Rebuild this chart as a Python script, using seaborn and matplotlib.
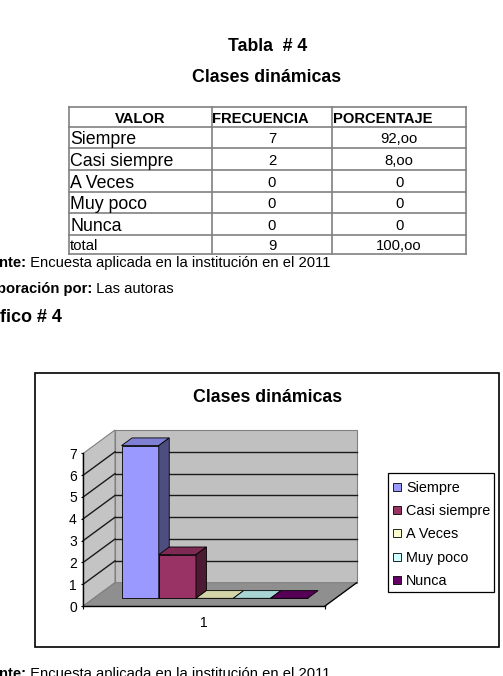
import numpy as np
import pandas as pd
import matplotlib
matplotlib.use("Agg")
import matplotlib.pyplot as plt
import seaborn as sns
import matplotlib.colors as mcolors
from matplotlib.patches import Polygon, Rectangle
from matplotlib.lines import Line2D
from matplotlib.transforms import ScaledTranslation

# ---------------- data ----------------
categories = ["Siempre", "Casi siempre", "A Veces", "Muy poco", "Nunca"]
frecuencia = [7, 2, 0, 0, 0]
porcentaje = ["92,oo", "8,oo", "0", "0", "0"]
total_label = "total"
total_frecuencia = "9"
total_porcentaje = "100,oo"
table_headers = ["VALOR", "FRECUENCIA", "PORCENTAJE"]
series_colors = ["#9999FF", "#993366", "#FFFFCC", "#CCFFFF", "#660066"]
group_label = ["1"]
y_ticks = [0, 1, 2, 3, 4, 5, 6, 7]
table_title = "Tabla  # 4"
chart_title = "Clases dinámicas"
fuente_bold, fuente_text = "nte:", " Encuesta aplicada en la institución en el 2011"
elab_bold, elab_text = "boración por:", " Las autoras"
grafico_label = "fico # 4"

# ---------------- figure ----------------
W, H = 503, 676
plt.rcParams['font.family'] = ['Liberation Sans', 'DejaVu Sans']
fig = plt.figure(figsize=(W / 100, H / 100), dpi=100)
fig.patch.set_facecolor("white")

doc = fig.add_axes([0, 0, 1, 1])
doc.set_xlim(0, W)
doc.set_ylim(H, 0)
doc.axis("off")
doc.set_zorder(0)

renderer = fig.canvas.get_renderer()


def mixed(x, y, bold, regular, size):
    t = doc.text(x, y, bold, fontsize=size, fontweight="bold", va="baseline", ha="left")
    bb = t.get_window_extent(renderer)
    x2 = doc.transData.inverted().transform((bb.x1, bb.y0))[0]
    doc.text(x2, y, regular, fontsize=size, va="baseline", ha="left")


# titles
doc.text(268, 51, table_title, fontsize=12.7, fontweight="bold", ha="center", va="baseline")
doc.text(267, 81.5, chart_title, fontsize=12.8, fontweight="bold", ha="center", va="baseline")

# table
col_x = [69.3, 211.7, 332.3, 466.0]
row_y = [106.7, 126.7, 148.3, 170.0, 191.7, 213.3, 235.0, 254.0]
line_kw = dict(color="#808080", lw=1.2)
for yy in row_y:
    doc.add_line(Line2D([col_x[0], col_x[-1]], [yy, yy], **line_kw))
for xx in col_x:
    doc.add_line(Line2D([xx, xx], [row_y[0], row_y[-1]], **line_kw))

doc.text((col_x[0] + col_x[1]) / 2, 122.7, table_headers[0], fontsize=10.6,
         fontweight="bold", ha="center", va="baseline")
doc.text(col_x[1] + 0.8, 122.7, table_headers[1], fontsize=10.6,
         fontweight="bold", ha="left", va="baseline")
doc.text(col_x[2] + 1.0, 122.7, table_headers[2], fontsize=10.6,
         fontweight="bold", ha="left", va="baseline")

for i, (c, f, p) in enumerate(zip(categories, frecuencia, porcentaje)):
    yb = row_y[i + 2] - 4.2
    doc.text(col_x[0] + 0.8, yb, c, fontsize=12.8, ha="left", va="baseline")
    doc.text((col_x[1] + col_x[2]) / 2, yb - 0.8, str(f), fontsize=10.7, ha="center", va="baseline")
    doc.text((col_x[2] + col_x[3]) / 2, yb - 0.8, p, fontsize=10.7, ha="center", va="baseline")
yb = row_y[-1] - 4
doc.text(col_x[0] + 0.8, yb, total_label, fontsize=10.7, ha="left", va="baseline")
doc.text((col_x[1] + col_x[2]) / 2, yb, total_frecuencia, fontsize=10.7, ha="center", va="baseline")
doc.text((col_x[2] + col_x[3]) / 2, yb, total_porcentaje, fontsize=10.7, ha="center", va="baseline")

mixed(-0.5, 267.3, fuente_bold, fuente_text, 10.6)
mixed(-3.0, 293.0, elab_bold, elab_text, 10.6)
doc.text(0.5, 321.7, grafico_label, fontsize=13, fontweight="bold", ha="left", va="baseline")
mixed(-0.5, 678.0, fuente_bold, fuente_text, 10.6)

# chart outer box
doc.add_patch(Rectangle((35, 373), 464, 274, fc="none", ec="black", lw=1.2))
doc.text(267.5, 401.7, chart_title, fontsize=12.8, fontweight="bold", ha="center", va="baseline")

# ---------------- 3D-like bar chart ----------------
X0, X1 = 83.3, 325.0
Y0, Y7 = 606.0, 453.3
ax = fig.add_axes([X0 / W, 1 - Y0 / H, (X1 - X0) / W, (Y0 - Y7) / H])
ax.set_zorder(2)
ax.patch.set_visible(False)

df = pd.DataFrame({"grupo": group_label * len(categories),
                   "valor": categories,
                   "frecuencia": frecuencia})
sns.barplot(data=df, x="grupo", y="frecuencia", hue="valor", hue_order=categories,
            palette=series_colors, width=0.77, saturation=1, errorbar=None,
            legend=False, edgecolor="black", linewidth=0.6, ax=ax)
ax.set_xlim(-0.5, 0.5)
ax.set_ylim(0, 7)
ax.set_xlabel("")
ax.set_ylabel("")

DX, DY = 0.317, 0.233   # full depth offset (inches)
d0, d1 = 0.33, 0.66     # bar depth span
inv = fig.transFigure.inverted()


def P(x, y, d):
    px, py = ax.transData.transform((x, y))
    return inv.transform((px + d * DX * fig.dpi, py + d * DY * fig.dpi))


def poly(pts, fc, ec, lw, z):
    ax.add_patch(Polygon(pts, closed=True, fc=fc, ec=ec, lw=lw, zorder=z,
                         transform=fig.transFigure, clip_on=False))


def seg(a, b, color, lw, z):
    ax.add_line(Line2D([a[0], b[0]], [a[1], b[1]], color=color, lw=lw, zorder=z,
                       transform=fig.transFigure, clip_on=False))


xl, xr = ax.get_xlim()
ytop = y_ticks[-1]
# back wall, left wall, floor
poly([P(xl, 0, 1), P(xr, 0, 1), P(xr, ytop, 1), P(xl, ytop, 1)], "#C0C0C0", "#808080", 0.8, 0.1)
poly([P(xl, 0, 0), P(xl, 0, 1), P(xl, ytop, 1), P(xl, ytop, 0)], "#C4C4C4", "#808080", 0.8, 0.1)
poly([P(xl, 0, 0), P(xr, 0, 0), P(xr, 0, 1), P(xl, 0, 1)], "#8F8F8F", "#808080", 0.8, 0.15)
seg(P(xr, 0, 0), P(xr, 0, 1), "black", 0.9, 0.2)
for v in y_ticks[1:-1]:
    seg(P(xl, v, 1), P(xr, v, 1), "#1a1a1a", 1.0, 0.2)
    seg(P(xl, v, 0), P(xl, v, 1), "#1a1a1a", 1.0, 0.2)

# bars with top and side faces
shift = ax.transData + ScaledTranslation(d0 * DX, d0 * DY, fig.dpi_scale_trans)
bars = sorted([p for p in ax.patches if isinstance(p, Rectangle)], key=lambda r: r.get_x())
for i, b in enumerate(bars):
    x, w, h = b.get_x(), b.get_width(), b.get_height()
    rgb = np.array(mcolors.to_rgb(b.get_facecolor()))
    z = 3 + i * 0.1
    b.set_transform(shift)
    b.set_clip_on(False)
    b.set_zorder(z)
    poly([P(x, h, d0), P(x + w, h, d0), P(x + w, h, d1), P(x, h, d1)],
         tuple(rgb * 0.83), "black", 0.6, z + 0.01)
    if h > 0:
        poly([P(x + w, 0, d0), P(x + w, 0, d1), P(x + w, h, d1), P(x + w, h, d0)],
             tuple(rgb * 0.5), "black", 0.6, z + 0.02)

# axes styling
for s in ("top", "right"):
    ax.spines[s].set_visible(False)
ax.spines["left"].set_color("black")
ax.spines["left"].set_linewidth(1.0)
ax.spines["bottom"].set_color("black")
ax.spines["bottom"].set_linewidth(1.0)
ax.set_yticks(y_ticks)
ax.set_yticklabels([str(v) for v in y_ticks])
ax.tick_params(axis="y", length=1.8, width=0.8, pad=2.9, labelsize=10, colors="black")
ax.set_xticks([0])
ax.set_xticklabels(group_label)
ax.tick_params(axis="x", which="major", length=0, pad=7.5, labelsize=10)
ax.set_xticks([xl, xr], minor=True)
ax.tick_params(axis="x", which="minor", length=2.5, width=0.8)

# legend
doc.add_patch(Rectangle((387.7, 473.3), 106.6, 118.4, fc="white", ec="black", lw=0.9, zorder=1))
for i, (c, col) in enumerate(zip(categories, series_colors)):
    yb = 491.7 + i * 23.3
    doc.add_patch(Rectangle((393, yb - 9.0), 8, 8, fc=col, ec="black", lw=0.6, zorder=2))
    doc.text(406, yb, c, fontsize=10.4, ha="left", va="baseline", zorder=2)

fig.savefig("out.png", dpi=100, facecolor="white")
